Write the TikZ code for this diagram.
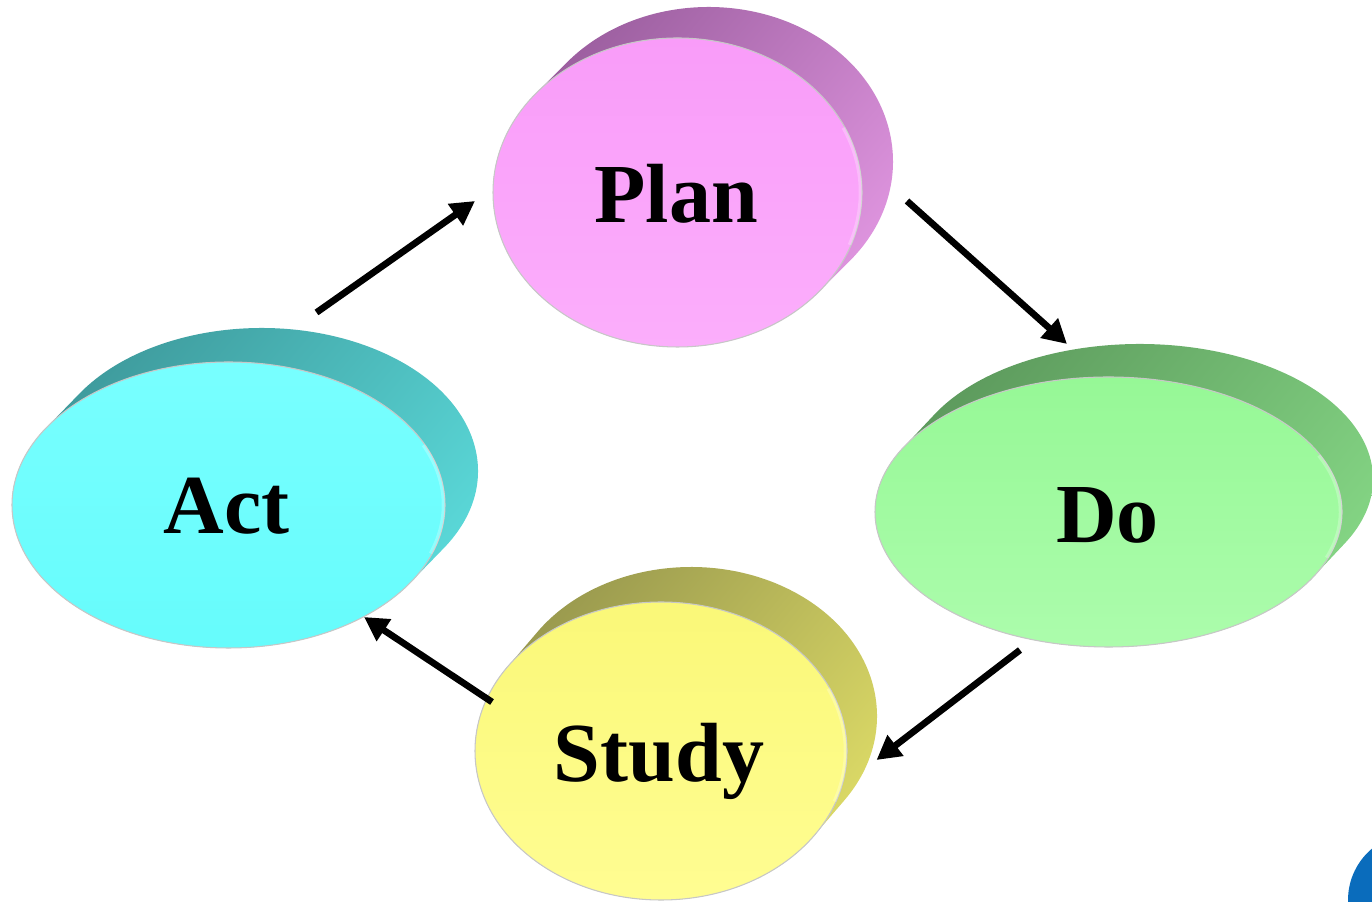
\documentclass[tikz,border=0pt]{standalone}
\usepackage{fontspec}
\setmainfont{Liberation Serif}
\usetikzlibrary{arrows.meta}
\definecolor{planF1}{HTML}{F99CF9}
\definecolor{planF2}{HTML}{FBAEFB}
\definecolor{planB1}{HTML}{965A9A}
\definecolor{planB2}{HTML}{E398E3}
\definecolor{actF1}{HTML}{78FFFF}
\definecolor{actF2}{HTML}{66FCFC}
\definecolor{actB1}{HTML}{3C9698}
\definecolor{actB2}{HTML}{5CDCDC}
\definecolor{doF1}{HTML}{96F896}
\definecolor{doF2}{HTML}{ACFCAC}
\definecolor{doB1}{HTML}{5A965A}
\definecolor{doB2}{HTML}{86D886}
\definecolor{studyF1}{HTML}{FAF878}
\definecolor{studyF2}{HTML}{FFFD92}
\definecolor{studyB1}{HTML}{94944C}
\definecolor{studyB2}{HTML}{E0DE68}
\definecolor{cornerblue}{HTML}{0A6CBC}
\newcommand\pdcadisc[7]{%
  \pgfmathsetmacro\dta{-atan((#4*#5)/(#3*#6))}%
  \pgfmathsetmacro\dtb{\dta+180}%
  \pgfmathsetmacro\dtc{\dta+360}%
  \shade[top color=#7B1, bottom color=#7B2, shading angle=50]
    ({#1+#3*cos(\dta)},{#2+#4*sin(\dta)}) --
    ({#1+#5+#3*cos(\dta)},{#2+#6+#4*sin(\dta)})
    arc[start angle=\dta, end angle=\dtb, x radius=#3, y radius=#4] --
    ({#1+#3*cos(\dtb)},{#2+#4*sin(\dtb)})
    arc[start angle=\dtb, end angle=\dtc, x radius=#3, y radius=#4] -- cycle;
  \shade[top color=#7F1, bottom color=#7F2, draw=black!22, line width=0.3pt]
    (#1,#2) ellipse[x radius=#3, y radius=#4];
  \draw[white, opacity=0.25, line width=1pt]
    ({#1+(#3-0.015)*cos(-20)},{#2+(#4-0.015)*sin(-20)})
    arc[start angle=-20, end angle=25, x radius=#3-0.015, y radius=#4-0.015];
}
\tikzset{
  label text/.style={inner sep=0pt, anchor=base, font=\fontsize{23.9}{28}\selectfont\bfseries},
  cycle arrow/.style={line width=1.9pt, -{Triangle[length=0.24cm, width=0.25cm]}}
}
\begin{document}
\begin{tikzpicture}
\useasboundingbox (0,0) rectangle (13.72,9.01);
\fill[white] (0,0) rectangle (13.72,9.01);
% discs
\pdcadisc{6.775}{7.085}{1.845}{1.545}{0.31}{0.31}{plan}
\pdcadisc{2.285}{3.96}{2.165}{1.43}{0.33}{0.34}{act}
\pdcadisc{11.085}{3.89}{2.335}{1.35}{0.31}{0.33}{do}
\pdcadisc{6.61}{1.50}{1.86}{1.49}{0.30}{0.35}{study}
% labels
\node[label text] (plan) at (6.76,6.78) {Plan};
\node[label text] (do) at (11.075,3.58) {Do};
\node[label text] (act) at (2.265,3.67) {Act};
\node[label text] (study) at (6.59,1.19) {Study};
% arrow ends
\coordinate (ap1) at (3.165,5.885);
\coordinate (ap2) at (4.75,7.00);
\coordinate (pd1) at (9.07,7.00);
\coordinate (pd2) at (10.67,5.57);
\coordinate (ds1) at (10.20,2.51);
\coordinate (ds2) at (8.765,1.41);
\coordinate (sa1) at (4.92,1.99);
\coordinate (sa2) at (3.64,2.84);
\draw[cycle arrow] (ap1) -- (ap2);
\draw[cycle arrow] (pd1) -- (pd2);
\draw[cycle arrow] (ds1) -- (ds2);
\draw[cycle arrow] (sa1) -- (sa2);
% corner mark
\begin{scope}
\clip (0,0) rectangle (13.72,9.01);
\fill[cornerblue] (14.15,0.01) circle[radius=0.67];
\end{scope}
\end{tikzpicture}
\end{document}
